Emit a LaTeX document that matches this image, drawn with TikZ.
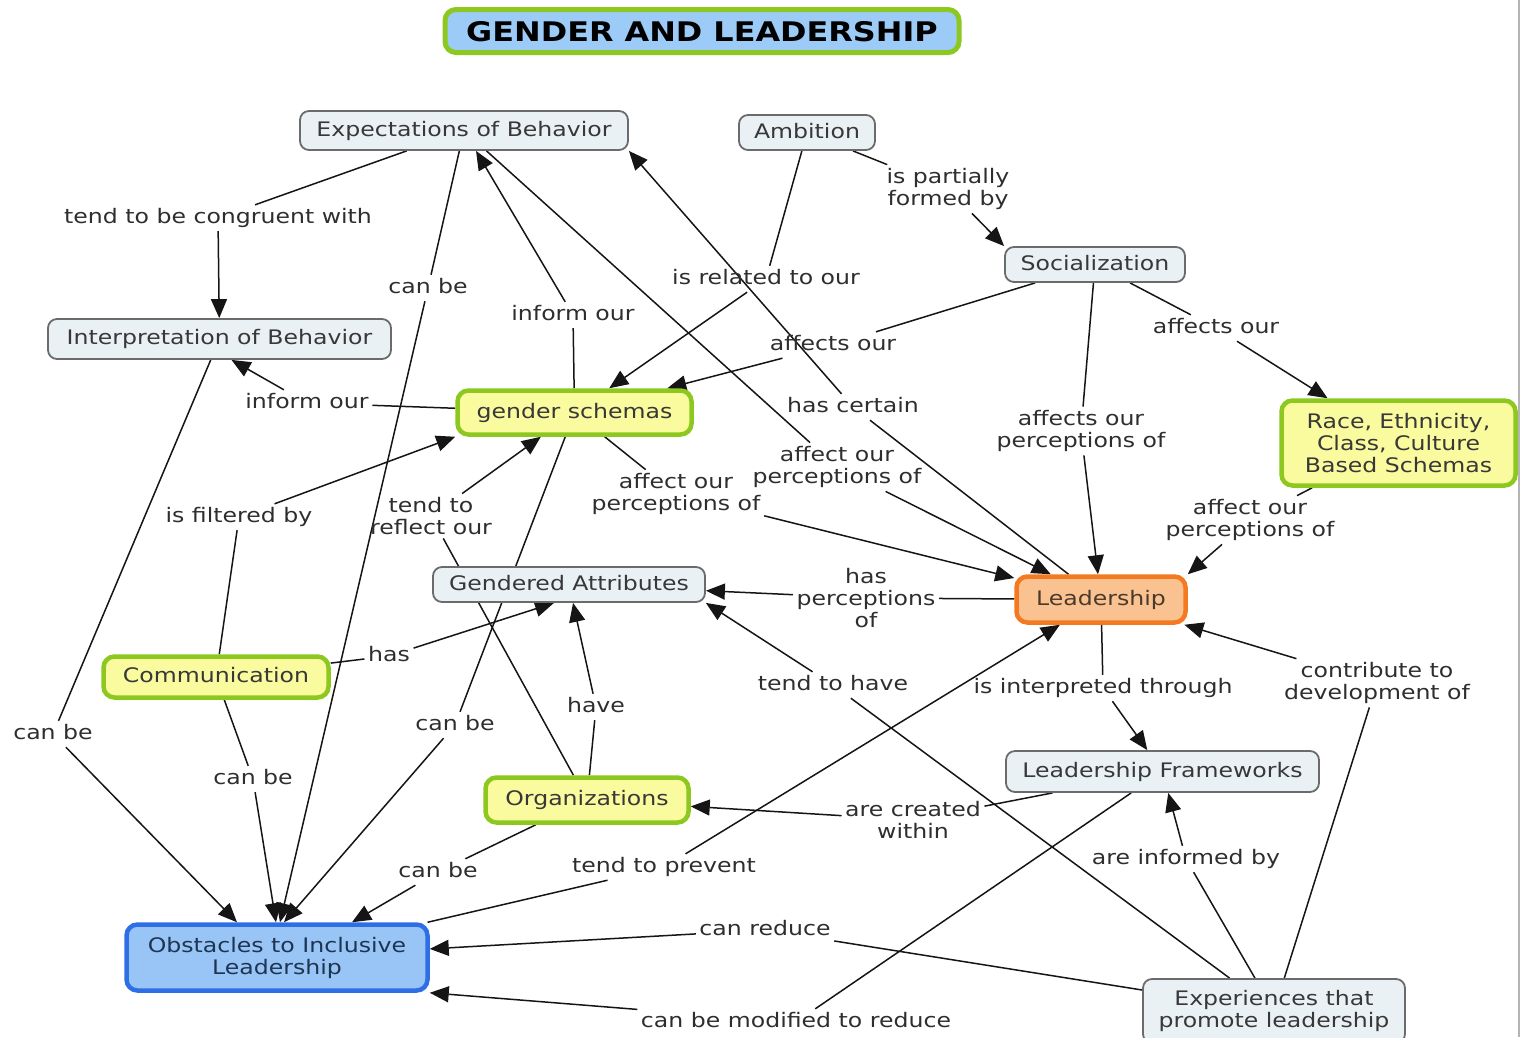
\documentclass[tikz,border=0pt]{standalone}
\usepackage{fontspec}
\setmainfont{DejaVu Sans}[FakeStretch=1.18]
\usetikzlibrary{arrows.meta,backgrounds}

\definecolor{greyline}{HTML}{6B6B6B}
\definecolor{greyfill}{HTML}{EAF1F5}
\definecolor{limeline}{HTML}{8DC820}
\definecolor{yellowfill}{HTML}{FAFA9E}
\definecolor{orangeline}{HTML}{F37A20}
\definecolor{orangefill}{HTML}{FBC291}
\definecolor{blueline}{HTML}{2F6FE6}
\definecolor{bluefill}{HTML}{98C4F6}
\definecolor{titlefill}{HTML}{9DCBF7}
\definecolor{conctext}{HTML}{383838}
\definecolor{lbltext}{HTML}{2E2E2E}
\definecolor{navytext}{HTML}{1E3552}
\definecolor{browntext}{HTML}{4A3A2C}
\definecolor{linkcol}{HTML}{151515}
\definecolor{edgerule}{HTML}{B4B4B4}

\begin{document}
\begin{tikzpicture}[x=1pt,y=-1pt,
  font=\fontsize{20}{22}\selectfont,
  concept/.style={rounded corners=9pt, align=center, inner sep=0pt, text height=15pt, text depth=4pt},
  multi/.style={text height=, text depth=},
  greybox/.style={concept, draw=greyline, fill=greyfill, line width=1.8pt, text=conctext},
  yellowbox/.style={concept, draw=limeline, fill=yellowfill, line width=4.5pt, text=conctext, rounded corners=11pt},
  orangebox/.style={concept, draw=orangeline, fill=orangefill, line width=4.5pt, text=browntext, rounded corners=11pt},
  bluebox/.style={concept, draw=blueline, fill=bluefill, line width=4.5pt, text=navytext, rounded corners=11pt},
  titlebox/.style={concept, draw=limeline, fill=titlefill, line width=5pt, text=black, rounded corners=11pt,
    text height=20pt, text depth=0pt, font=\fontsize{27}{30}\selectfont\bfseries},
  lbl/.style={align=center, inner sep=3.5pt, text=lbltext, text height=15pt, text depth=4pt},
  link/.style={line width=1.5pt, draw=linkcol},
  arr/.style={link, -{Triangle[length=19pt,width=16pt]}},
]
\useasboundingbox (0,0) rectangle (1528,1037);
\clip (0,0) rectangle (1528,1037);

% thin rule along the right margin
\draw[edgerule, line width=2pt] (1519,0) -- (1519,1037);

% concepts
\node[titlebox, minimum width=514pt, minimum height=43pt] (title) at (702,31) {GENDER AND LEADERSHIP};
\node[greybox, minimum width=328pt, minimum height=39pt] (exp) at (464,130.5) {Expectations of Behavior};
\node[greybox, minimum width=136pt, minimum height=35pt] (amb) at (807,132.5) {Ambition};
\node[greybox, minimum width=180pt, minimum height=35pt] (soc) at (1095,264.5) {Socialization};
\node[greybox, minimum width=343pt, minimum height=40pt] (interp) at (219.5,339) {Interpretation of Behavior};
\node[yellowbox, minimum width=234pt, minimum height=44pt] (gs) at (574.5,412.5) {gender schemas};
\node[yellowbox, multi, minimum width=234pt, minimum height=85pt] (race) at (1398.5,443) {Race, Ethnicity,\\Class, Culture\\Based Schemas};
\node[greybox, minimum width=272pt, minimum height=35pt] (ga) at (569,584.5) {Gendered Attributes};
\node[orangebox, minimum width=169pt, minimum height=46pt] (lead) at (1101,599.5) {Leadership};
\node[yellowbox, minimum width=225pt, minimum height=41pt] (comm) at (216,677) {Communication};
\node[yellowbox, minimum width=203pt, minimum height=45pt] (org) at (587,800) {Organizations};
\node[greybox, minimum width=313pt, minimum height=41pt] (lf) at (1162.5,771.5) {Leadership Frameworks};
\node[bluebox, multi, minimum width=301pt, minimum height=66pt] (obs) at (277,957.5) {Obstacles to Inclusive\\Leadership};
\node[greybox, multi, minimum width=262pt, minimum height=64pt] (expr) at (1274,1011) {Experiences that\\promote leadership};

% linking phrases
\node[lbl] (l1) at (218,218) {tend to be congruent with};
\node[lbl] (l2) at (428,288) {can be};
\node[lbl] (l3) at (573,315) {inform our};
\node[lbl] (l4) at (766,279) {is related to our};
\node[lbl, multi] (l5) at (948,189) {is partially\\formed by};
\node[lbl] (l6) at (833,345) {affects our};
\node[lbl, multi] (l7) at (1081,431) {affects our\\perceptions of};
\node[lbl] (l8) at (1216,328) {affects our};
\node[lbl, multi] (l9) at (1250,520) {affect our\\perceptions of};
\node[lbl] (l10) at (307,403) {inform our};
\node[lbl] (l11) at (239,517) {is filtered by};
\node[lbl, multi] (l12) at (431,516) {tend to\\reflect our};
\node[lbl, multi] (l13) at (676,494) {affect our\\perceptions of};
\node[lbl, multi] (l14) at (837,467) {affect our\\perceptions of};
\node[lbl] (l15) at (853,407) {has certain};
\node[lbl, multi] (l16) at (866,598) {has\\perceptions\\of};
\node[lbl] (l17) at (596,707) {have};
\node[lbl] (l18) at (389,656) {has};
\node[lbl] (l19) at (833,685) {tend to have};
\node[lbl] (l20) at (455,725) {can be};
\node[lbl] (l21) at (253,779) {can be};
\node[lbl] (l22) at (53,734) {can be};
\node[lbl] (l23) at (438,872) {can be};
\node[lbl] (l24) at (664,867) {tend to prevent};
\node[lbl] (l25) at (765,930) {can reduce};
\node[lbl] (l26) at (796,1022) {can be modified to reduce};
\node[lbl, multi] (l27) at (913,820) {are created\\within};
\node[lbl] (l28) at (1103,688) {is interpreted through};
\node[lbl] (l29) at (1186,859) {are informed by};
\node[lbl, multi] (l30) at (1377,683) {contribute to\\development of};

% connectors, kept beneath the concept boxes
\begin{scope}[on background layer]
\draw[link] (exp) -- (l1);     \draw[arr] (l1) -- (interp);
\draw[link] (exp) -- (l2);     \draw[arr] (l2) -- ([xshift=3pt]obs.north);
\draw[link] (gs) -- (l3);      \draw[arr] (l3) -- (exp);
\draw[link] (amb) -- (l4);     \draw[arr] (l4) -- (gs);
\draw[link] (amb) -- (l5);     \draw[arr] (l5) -- (soc.north west);
\draw[link] (soc) -- (l6);     \draw[arr] (l6) -- (gs);
\draw[link] (soc) -- (l7);     \draw[arr] (l7) -- (lead);
\draw[link] (soc) -- (l8);     \draw[arr] (l8) -- (race);
\draw[link] (race) -- (l9);    \draw[arr] (l9) -- (lead.north east);
\draw[link] (gs) -- (l10);     \draw[arr] (l10) -- ([xshift=12pt]interp.south);
\draw[link] (comm) -- (l11);   \draw[arr] (l11) -- (gs.south west);
\draw[link] (org) -- (l12);    \draw[arr] (l12) -- (gs);
\draw[link] (gs) -- (l13);     \draw[arr] (l13) -- (lead);
\draw[link] (exp) -- (l14);    \draw[arr] (l14) -- (lead);
\draw[link] (lead) -- (l15);   \draw[arr] (l15) -- (exp.south east);
\draw[link] (lead) -- (l16);   \draw[arr] (l16) -- (ga);
\draw[link] (org) -- (l17);    \draw[arr] (l17) -- (ga);
\draw[link] (comm) -- (l18);   \draw[arr] (l18) -- ([xshift=-15pt]ga.south);
\draw[link] (expr) -- (l19);   \draw[arr] (l19) -- (ga.south east);
\draw[link] (gs) -- (l20);     \draw[arr] (l20) -- ([xshift=7pt]obs.north);
\draw[link] (comm) -- (l21);   \draw[arr] (l21) -- ([xshift=-1pt]obs.north);
\draw[link] (interp) -- (l22); \draw[arr] (l22) -- ([xshift=-40pt]obs.north);
\draw[link] (org) -- (l23);    \draw[arr] (l23) -- ([xshift=75pt]obs.north);
\draw[link] (obs) -- (l24);    \draw[arr] (l24) -- (lead);
\draw[link] (expr) -- (l25);   \draw[arr] (l25) -- (obs);
\draw[link] (lf) -- (l26);     \draw[arr] (l26) -- (obs.south east);
\draw[link] (lf) -- (l27);     \draw[arr] (l27) -- (org);
\draw[link] (lead) -- (l28);   \draw[arr] (l28) -- (lf);
\draw[link] (expr) -- (l29);   \draw[arr] (l29) -- (lf);
\draw[link] (expr) -- (l30);   \draw[arr] (l30) -- (lead);
\end{scope}
\end{tikzpicture}
\end{document}
